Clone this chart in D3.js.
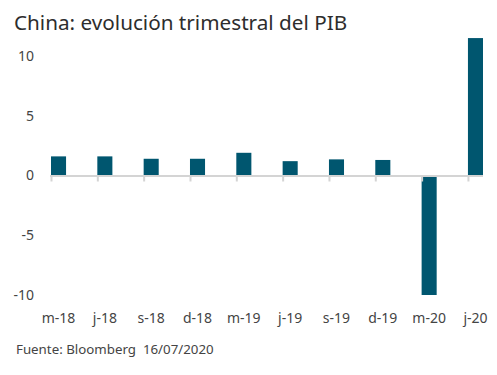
<!DOCTYPE html>
<html lang="es">
<head>
<meta charset="utf-8">
<title>China: evolución trimestral del PIB</title>
<script src="https://d3js.org/d3.v7.min.js"></script>
<style>
  body { margin: 0; background: #fff; }
  text { font-family: "Noto Sans", sans-serif; }
</style>
</head>
<body>
<script>
// data
const quarters = ["m-18", "j-18", "s-18", "d-18", "m-19", "j-19", "s-19", "d-19", "m-20", "j-20"];
const gdpQoQ = [1.6, 1.6, 1.4, 1.4, 1.9, 1.2, 1.35, 1.3, -10.0, 11.5];
const yTicks = [-10, -5, 0, 5, 10];

const width = 497, height = 375;

const svg = d3.select("body").append("svg")
  .attr("width", width)
  .attr("height", height);

// scales
const x = d3.scaleBand()
  .domain(quarters)
  .range([51, 483])
  .paddingInner(0.675)
  .paddingOuter(0)
  .align(0);

const y = d3.scaleLinear()
  .domain([-10, 10])
  .range([295, 56]);

// title
svg.append("text")
  .attr("x", 14)
  .attr("y", 30)
  .attr("font-size", 20.7)
  .attr("fill", "#2d2d2d")
  .text("China: evolución trimestral del PIB");

// y labels
svg.append("g").selectAll("text")
  .data(yTicks)
  .join("text")
  .attr("x", 34)
  .attr("y", d => y(d))
  .attr("dy", "0.35em")
  .attr("text-anchor", "end")
  .attr("font-size", 14)
  .attr("fill", "#444")
  .text(d => d);

// bars
svg.append("g").selectAll("rect")
  .data(quarters)
  .join("rect")
  .attr("x", d => x(d))
  .attr("y", (d, i) => Math.min(y(gdpQoQ[i]), y(0)))
  .attr("width", x.bandwidth())
  .attr("height", (d, i) => Math.abs(y(gdpQoQ[i]) - y(0)))
  .attr("fill", "#00566f");

// zero line + ticks
svg.append("line")
  .attr("x1", 50).attr("x2", 483)
  .attr("y1", y(0) + 0.5).attr("y2", y(0) + 0.5)
  .attr("stroke", "#d4d4d4")
  .attr("stroke-width", 2);

svg.append("g").selectAll("line")
  .data(quarters)
  .join("line")
  .attr("x1", d => x(d) + 0.5)
  .attr("x2", d => x(d) + 0.5)
  .attr("y1", y(0) + 0.5)
  .attr("y2", y(0) + 6)
  .attr("stroke", "#d4d4d4")
  .attr("stroke-width", 2);

// x labels
svg.append("g").selectAll("text")
  .data(quarters)
  .join("text")
  .attr("x", d => x(d) + x.bandwidth() / 2)
  .attr("y", 323)
  .attr("text-anchor", "middle")
  .attr("font-size", 14)
  .attr("fill", "#444")
  .text(d => d);

// source
svg.append("text")
  .attr("x", 16)
  .attr("y", 354)
  .attr("font-size", 13.3)
  .attr("fill", "#444")
  .text("Fuente: Bloomberg  16/07/2020")
  .style("white-space", "pre");
</script>
</body>
</html>
